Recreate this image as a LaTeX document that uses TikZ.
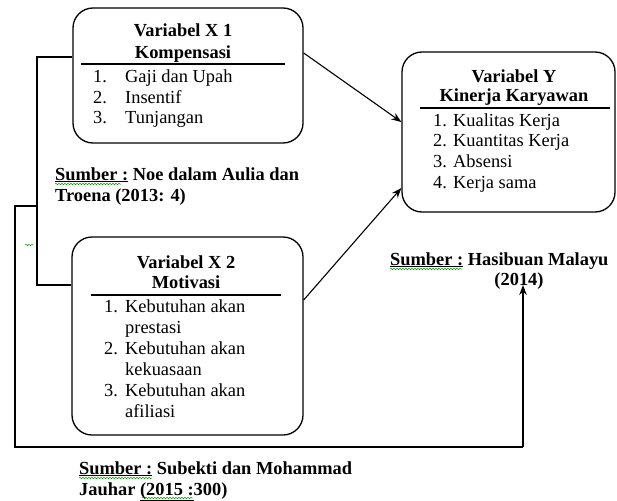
\documentclass[tikz,border=0pt]{standalone}
\usepackage{fontspec}
\setmainfont{Liberation Serif}
\usetikzlibrary{arrows.meta,decorations.pathmorphing}
\begin{document}
\begin{tikzpicture}[x=1pt,y=-1pt,
  box/.style={draw, line width=1.3pt, rounded corners=20pt, inner sep=0pt},
  txt/.style={anchor=base west, inner sep=0pt, font=\fontsize{18.4}{21}\selectfont},
  ttl/.style={anchor=base, inner sep=0pt, font=\fontsize{18.4}{21}\selectfont\bfseries},
  src/.style={anchor=base west, inner sep=0pt, font=\fontsize{18.4}{21}\selectfont\bfseries},
  conn/.style={line width=1.1pt},
  arr/.style={conn, -{Stealth[length=10pt,width=7.5pt]}},
  sep/.style={line width=1.1pt},
  spell/.style={green!60!black, line width=0.5pt, decorate, decoration={snake, amplitude=0.7pt, segment length=3pt}}
]
\useasboundingbox (0,0) rectangle (617,500);

% boxes
\node[box, minimum width=230pt, minimum height=135pt] (x1) at (188,75.5) {};
\node[box, minimum width=231pt, minimum height=198pt] (x2) at (187.5,336) {};
\node[box, minimum width=213pt, minimum height=160pt] (y) at (508.5,132) {};

% X1 content
\node[ttl] (x1t1) at (183,37) {Variabel X 1};
\node[ttl] (x1t2) at (183,59) {Kompensasi};
\draw[sep] (81,64) -- (285,64);
\node[txt] (x1n1) at (93,82) {1.};
\node[txt] (x1i1) at (125,82) {Gaji dan Upah};
\node[txt] (x1n2) at (93,103) {2.};
\node[txt] (x1i2) at (125,103) {Insentif};
\node[txt] (x1n3) at (93,123) {3.};
\node[txt] (x1i3) at (125,123) {Tunjangan};

% X2 content
\node[ttl] (x2t1) at (186,268) {Variabel X 2};
\node[ttl] (x2t2) at (186,288) {Motivasi};
\draw[sep] (91,295) -- (281,295);
\node[txt] (x2n1) at (104,312) {1.};
\node[txt] (x2i1) at (125,312) {Kebutuhan akan};
\node[txt] (x2i1b) at (125,333) {prestasi};
\node[txt] (x2n2) at (104,354) {2.};
\node[txt] (x2i2) at (125,354) {Kebutuhan akan};
\node[txt] (x2i2b) at (125,375) {kekuasaan};
\node[txt] (x2n3) at (104,396) {3.};
\node[txt] (x2i3) at (125,396) {Kebutuhan akan};
\node[txt] (x2i3b) at (125,417) {afiliasi};

% Y content
\node[ttl] (yt1) at (514,82) {Variabel Y};
\node[ttl] (yt2) at (514,102) {Kinerja Karyawan};
\draw[sep] (420,108) -- (610,108);
\node[txt] (yn1) at (433,126) {1.};
\node[txt] (yi1) at (453,126) {Kualitas Kerja};
\node[txt] (yn2) at (433,146) {2.};
\node[txt] (yi2) at (453,146) {Kuantitas Kerja};
\node[txt] (yn3) at (433,167) {3.};
\node[txt] (yi3) at (453,167) {Absensi};
\node[txt] (yn4) at (433,188) {4.};
\node[txt] (yi4) at (453,188) {Kerja sama};

% sources
\node[src] (s1a) at (55,180) {\underline{Sumber :} Noe dalam Aulia dan};
\node[src] (s1b) at (55,201) {Troena (2013: 4)};
\node[src] (s2a) at (390,265) {\underline{Sumber :} Hasibuan Malayu};
\node[anchor=base, inner sep=0pt, font=\fontsize{18.4}{21}\selectfont\bfseries] (s2b) at (519,285) {(2014)};
\node[src] (s3a) at (79,474) {\underline{Sumber :} Subekti dan Mohammad};
\node[src] (s3b) at (79,495) {Jauhar \underline{(2015 :}300)};

% spell-check marks
\draw[spell] (55,184) -- (121,184);
\draw[spell] (390,269) -- (462,269);
\draw[spell] (79,478) -- (152,478);
\draw[spell] (142,498) -- (193,498);
\draw[spell] (25,245) -- (33,245);

% connectors
\coordinate (c1) at (x1.west |- 0,57);
\coordinate (c2) at (37,57);
\coordinate (c3) at (37,285);
\coordinate (c4) at (x2.west |- 0,285);
\draw[conn] (c1) -- (c2) -- (c3) -- (c4);

\coordinate (d1) at (37,206);
\coordinate (d2) at (15,206);
\coordinate (d3) at (15,447);
\coordinate (d4) at (523,447);
\coordinate (d5) at (523,285);
\draw[conn] (d1) -- (d2) -- (d3) -- (d4);
\draw[arr] (d4) -- (d5);

\coordinate (e1) at (x1.east |- 0,53);
\coordinate (e2) at (y.west |- 0,122);
\draw[arr] (e1) -- (e2);

\coordinate (f1) at (x2.east |- 0,300);
\coordinate (f2) at (y.west |- 0,188);
\draw[arr] (f1) -- (f2);
\end{tikzpicture}
\end{document}
